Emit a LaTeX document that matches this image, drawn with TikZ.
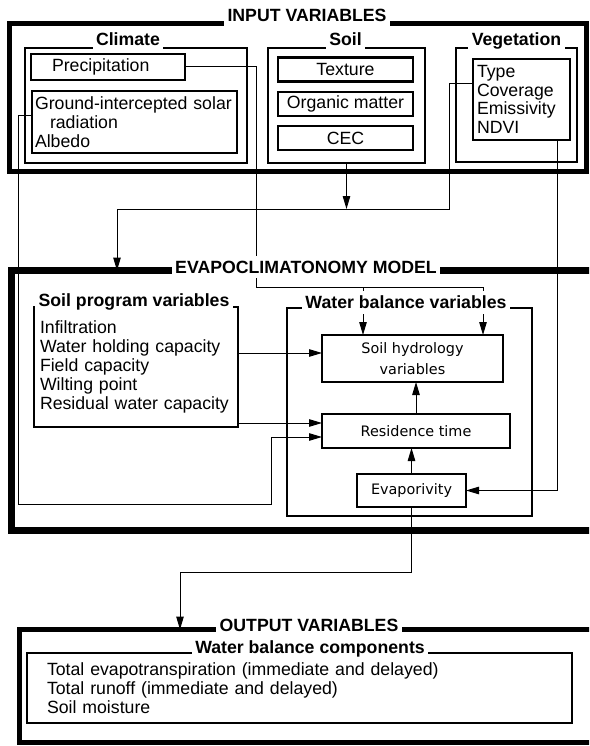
\documentclass[tikz,border=0pt]{standalone}
\usepackage{fontspec}
\setmainfont{Liberation Sans}
\newfontfamily\macfont{DejaVu Sans}
\usetikzlibrary{arrows.meta}
\newcommand\txtsize{\fontsize{17.7}{18.8}\selectfont}
\tikzset{
  bigframe/.style={draw, line width=#1, inner sep=0pt, outer sep=0pt},
  groupbox/.style={draw, line width=2pt, inner sep=0pt, outer sep=0pt},
  itembox/.style={draw, line width=2.2pt, inner sep=0pt, outer sep=0pt},
  listbox/.style={draw, line width=2pt, align=left, outer sep=0pt},
  macbox/.style={draw, line width=2pt, align=center, inner sep=0pt, outer sep=0pt,
    font=\macfont\fontsize{14.4}{21}\selectfont},
  headtitle/.style={font=\txtsize\bfseries, fill=white, anchor=base, inner xsep=3.5pt, inner ysep=5pt},
  conn/.style={line width=1pt}
}
\begin{document}
\begin{tikzpicture}[x=1pt, y=-1pt, >={Triangle[length=13pt,width=7.5pt]}, font=\txtsize, line join=miter]
\useasboundingbox (0,0) rectangle (589,746);
\clip (0,0) rectangle (589,746);
% outer frames
\node[bigframe=5pt, minimum width=576.5pt, minimum height=147.5pt] (input) at (297.75,97.75) {};
\node[bigframe=7pt, minimum width=609pt, minimum height=259.5pt] (model) at (315.5,400.25) {};
\node[bigframe=4.5pt, minimum width=600pt, minimum height=113pt] (output) at (319.5,686) {};
% input variables
\node[groupbox, minimum width=222pt, minimum height=115pt] (climate) at (136,105.5) {};
\node[groupbox, minimum width=157pt, minimum height=115pt] (soil) at (346.5,105.5) {};
\node[groupbox, minimum width=121pt, minimum height=114pt] (vegetation) at (516.5,105) {};
\node[itembox, text width=112pt, inner xsep=21pt, align=left, minimum height=26pt] (prec) at (108,67) {Precipitation};
\node[listbox, text width=199pt, inner xsep=3pt, minimum height=62pt] (gisr) at (134.5,122)
  {Ground-intercepted solar\\\hspace*{15pt}radiation\\Albedo};
\foreach \n/\t/\y in {tex/Texture/69.5, org/Organic matter/104, cec/CEC/138}
  \node[itembox, minimum width=135pt, minimum height=24pt] (\n) at (345.5,\y) {\t};
\node[listbox, text width=89pt, inner xsep=4pt, minimum height=81pt] (veg) at (521.5,99.5)
  {Type\\Coverage\\Emissivity\\NDVI};
% model
\node[listbox, text width=192pt, inner xsep=6pt, minimum height=120pt] (spv) at (136,367)
  {Infiltration\\Water holding capacity\\Field capacity\\Wilting point\\Residual water capacity};
\node[groupbox, minimum width=245pt, minimum height=208pt] (wbv) at (409.5,412) {};
\node[macbox, minimum width=181pt, minimum height=47pt] (shv) at (412.5,358.5) {Soil hydrology\\variables};
\node[macbox, minimum width=188pt, minimum height=34pt] (rt) at (416,431) {Residence time};
\node[macbox, minimum width=109pt, minimum height=33pt] (ev) at (411.5,490.5) {Evaporivity};
% output
\node[listbox, text width=505pt, inner xsep=20pt, minimum height=70pt] (wbc) at (299.5,688)
  {Total evapotranspiration (immediate and delayed)\\Total runoff (immediate and delayed)\\Soil moisture};
% connectors
\coordinate (pa) at (256,287);
\coordinate (pb) at (483,287);
\coordinate (pc) at (363,287);
\draw[conn] (prec.east) -| (pa) -- (pb);
\draw[conn,->] (pb) -- (pb |- shv.north);
\draw[conn,->] (pc) -- (pc |- shv.north);
\coordinate (va) at (449,209);
\coordinate (vb) at (117,209);
\draw[conn,->] ([yshift=15.5pt]veg.west) -| (va) -- (vb) -- (vb |- model.north);
\draw[conn,->] (soil.south) -- (soil.south |- va);
\coordinate (vc) at ([xshift=35.5pt]veg.south);
\draw[conn,->] (vc) |- (ev.east);
\coordinate (ga) at (18,504);
\coordinate (gb) at (271,437);
\draw[conn,->] ([yshift=6pt]gisr.west) -| (ga) -| (gb) -- (gb -| rt.west);
\coordinate (sw) at ([yshift=5.5pt]shv.west);
\draw[conn,->] (spv.east |- sw) -- (sw);
\coordinate (rw) at ([yshift=8pt]rt.west);
\draw[conn,->] (spv.east |- rw) -- (rw);
\draw[conn,->] (rt.north) -- (rt.north |- shv.south);
\draw[conn,->] (ev.north) -- (ev.north |- rt.south);
\coordinate (oa) at (180,572);
\draw[conn,->] (ev.south) |- (oa) -- (oa |- output.north);
% titles
\node[headtitle] (tin) at (307,21.5) {INPUT VARIABLES};
\node[headtitle] (tcl) at (128,46) {Climate};
\node[headtitle] (tso) at (345.5,46) {Soil};
\node[headtitle] (tve) at (516.5,46) {Vegetation};
\node[headtitle] (tmo) at (306,273) {EVAPOCLIMATONOMY MODEL};
\node[headtitle] (tsp) at (134,306.5) {Soil program variables};
\node[headtitle] (twb) at (406,308.5) {Water balance variables};
\node[headtitle] (tout) at (309,631) {OUTPUT VARIABLES};
\node[headtitle] (twc) at (310,653) {Water balance components};
\end{tikzpicture}
\end{document}
